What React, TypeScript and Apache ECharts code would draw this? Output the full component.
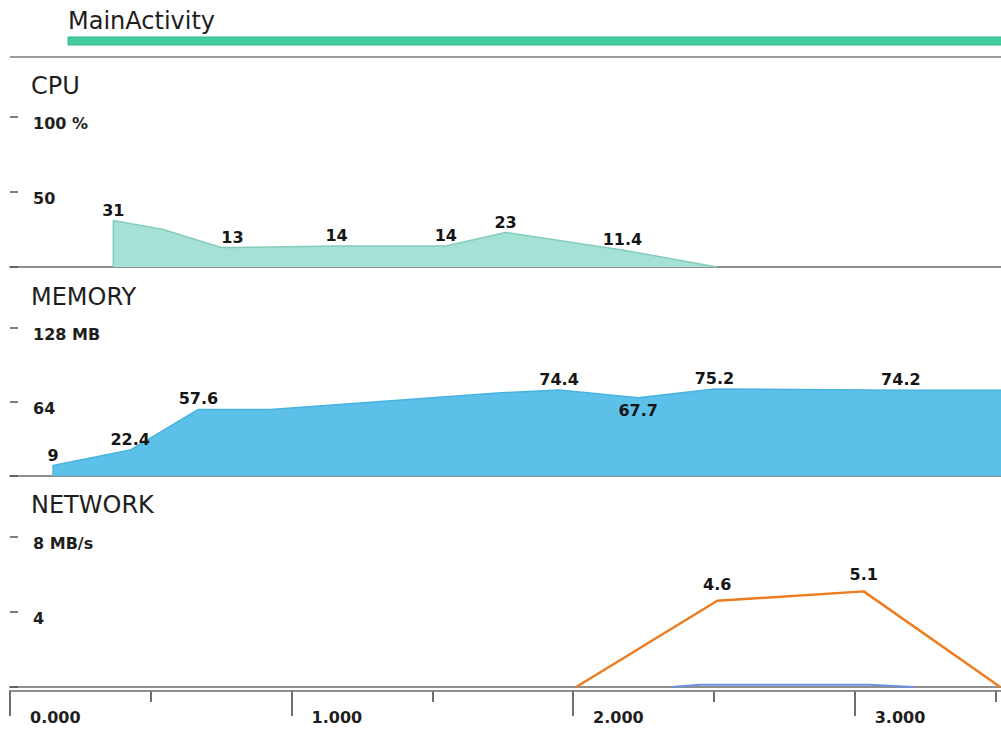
import React, { useEffect, useRef } from "react";
import * as echarts from "echarts";

// ---- time axis ----
const X_MIN = 0;
const X_MAX = 3.541;
const xMajorStep = 1;
const xMinorStep = 0.5;

// ---- section titles ----
const activityName = "MainActivity";
const sectionTitles = ["CPU", "MEMORY", "NETWORK"];

// ---- CPU (%) ----
const cpuTimes = [0.367, 0.367, 0.544, 0.75, 0.79, 1.16, 1.548, 1.76, 2.175, 2.51];
const cpuValues = [0, 31, 25, 13, 13, 14, 14, 23, 11.4, 0];
const cpuLabeled = [false, true, false, false, true, true, true, true, true, false];
const cpuMax = 100;
const cpuStep = 50;
const cpuUnit = "%";

// ---- MEMORY (MB) ----
const memTimes = [0.153, 0.153, 0.427, 0.669, 0.925, 1.744, 1.95, 2.231, 2.502, 3.164, 3.541];
const memValues = [0, 9, 22.4, 57.6, 57.6, 72, 74.4, 67.7, 75.2, 74.2, 74.2];
const memLabeled = [false, true, true, true, false, false, true, true, true, true, false];
const memMax = 128;
const memStep = 64;
const memUnit = "MB";

// ---- NETWORK (MB/s) ----
const netSentTimes = [2.011, 2.512, 3.032, 3.517];
const netSentValues = [0, 4.6, 5.1, 0];
const netSentLabeled = [false, true, true, false];
const netRecvTimes = [2.35, 2.45, 3.05, 3.21];
const netRecvValues = [0, 0.12, 0.12, 0];
const netMax = 8;
const netStep = 4;
const netUnit = "MB/s";

const FONT = "'DejaVu Sans', 'Open Sans', sans-serif";

function buildData(times: number[], values: number[], labeled?: boolean[], dist = 3) {
  return times.map((t, i) => {
    const v = values[i];
    const prev = i > 0 ? values[i - 1] : -Infinity;
    const next = i < values.length - 1 ? values[i + 1] : -Infinity;
    const isDip = i > 0 && i < values.length - 1 && v < prev && v < next;
    return {
      value: [t, v],
      label: {
        show: !!(labeled && labeled[i]),
        position: isDip ? "bottom" : "top",
        distance: isDip ? 4 : dist,
      },
    };
  });
}

export default function App() {
  const ref = useRef<HTMLDivElement>(null);

  useEffect(() => {
    document.body.style.margin = "0";
    if (!ref.current) return;
    const chart = echarts.init(ref.current, undefined, { renderer: "svg" });

    const grids = [
      { left: 10, width: 997, top: 117, height: 150, outerBoundsMode: "none", containLabel: false },
      { left: 10, width: 997, top: 328, height: 148, outerBoundsMode: "none", containLabel: false },
      { left: 10, width: 997, top: 537, height: 150, outerBoundsMode: "none", containLabel: false },
    ];

    const baseX = (gridIndex: number) => ({
      type: "value",
      gridIndex,
      min: X_MIN,
      max: X_MAX,
      position: "bottom",
      axisLine: { show: true, onZero: false, lineStyle: { color: "#8f8f8f", width: 2 } },
      axisTick: { show: false },
      axisLabel: { show: false },
      splitLine: { show: false },
    });

    const yAxis = (gridIndex: number, max: number, step: number, unit: string) => ({
      type: "value",
      gridIndex,
      min: 0,
      max,
      interval: step,
      axisLine: { show: false },
      splitLine: { show: false },
      axisTick: { show: true, inside: true, length: 8, lineStyle: { color: "#555", width: 1.5 } },
      axisLabel: {
        inside: true,
        margin: 23,
        align: "left",
        verticalAlign: "top",
        lineHeight: 12,
        color: "#1e1e1e",
        fontSize: 16,
        fontWeight: "bold",
        fontFamily: FONT,
        formatter: (v: number) => (v === 0 ? "" : v === max ? `${v} ${unit}` : String(v)),
      },
    });

    const seriesLabel = {
      color: "#151515",
      fontSize: 16,
      fontWeight: "bold",
      fontFamily: FONT,
      formatter: (p: any) => String(p.value[1]),
    };

    const hiddenSymbol = {
      showSymbol: true,
      symbol: "circle",
      symbolSize: 1,
      itemStyle: { color: "rgba(0,0,0,0)" },
    };

    const option: any = {
      animation: false,
      grid: grids,
      xAxis: [
        baseX(0),
        baseX(1),
        baseX(2),
        {
          ...baseX(2),
          offset: 4,
          interval: xMinorStep,
          axisTick: { show: true, length: 11, lineStyle: { color: "#6f6f6f", width: 2 } },
        },
        {
          ...baseX(2),
          offset: 4,
          interval: xMajorStep,
          axisTick: { show: true, length: 25, lineStyle: { color: "#6f6f6f", width: 2 } },
          axisLabel: {
            show: true,
            margin: 18,
            align: "left",
            padding: [0, 0, 0, 20],
            color: "#1e1e1e",
            fontSize: 16,
            fontWeight: "bold",
            fontFamily: FONT,
            formatter: (v: number) => (Number.isInteger(v) ? v.toFixed(3) : ""),
          },
        },
      ],
      yAxis: [
        yAxis(0, cpuMax, cpuStep, cpuUnit),
        yAxis(1, memMax, memStep, memUnit),
        yAxis(2, netMax, netStep, netUnit),
      ],
      series: [
        {
          type: "line",
          xAxisIndex: 0,
          yAxisIndex: 0,
          ...hiddenSymbol,
          data: buildData(cpuTimes, cpuValues, cpuLabeled, 2),
          lineStyle: { color: "#84cdbd", width: 1.5 },
          areaStyle: { color: "#a6e1d5", opacity: 1 },
          label: seriesLabel,
          z: 3,
        },
        {
          type: "line",
          xAxisIndex: 1,
          yAxisIndex: 1,
          ...hiddenSymbol,
          data: buildData(memTimes, memValues, memLabeled, 2),
          lineStyle: { color: "#48b3df", width: 1.5 },
          areaStyle: { color: "#5cc0e9", opacity: 1 },
          label: seriesLabel,
          z: 3,
        },
        {
          type: "line",
          xAxisIndex: 2,
          yAxisIndex: 2,
          symbol: "none",
          data: buildData(netRecvTimes, netRecvValues),
          lineStyle: { color: "#6f8fe0", width: 2 },
          z: 3,
        },
        {
          type: "line",
          xAxisIndex: 2,
          yAxisIndex: 2,
          ...hiddenSymbol,
          data: buildData(netSentTimes, netSentValues, netSentLabeled, 8),
          lineStyle: { color: "#ee7d1f", width: 2.5 },
          label: { ...seriesLabel },
          z: 4,
        },
      ],
      graphic: [
        {
          type: "text",
          x: 68,
          y: 21,
          style: {
            text: activityName,
            fill: "#1e1e1e",
            fontSize: 24,
            fontFamily: FONT,
            verticalAlign: "middle",
          },
        },
        {
          type: "rect",
          shape: { x: 68, y: 37, width: 940, height: 8 },
          style: { fill: "#44cc9e", stroke: "#2fb987", lineWidth: 1 },
        },
        {
          type: "line",
          shape: { x1: 10, y1: 57, x2: 1001, y2: 57 },
          style: { stroke: "#9a9a9a", lineWidth: 2 },
        },
        ...sectionTitles.map((t, i) => ({
          type: "text",
          x: 31,
          y: [86, 297, 505][i],
          style: {
            text: t,
            fill: "#1e1e1e",
            fontSize: 24,
            fontFamily: FONT,
            verticalAlign: "middle",
          },
        })),
      ],
    };

    chart.setOption(option);
    return () => chart.dispose();
  }, []);

  return <div ref={ref} style={{ width: 1001, height: 731 }} />;
}
